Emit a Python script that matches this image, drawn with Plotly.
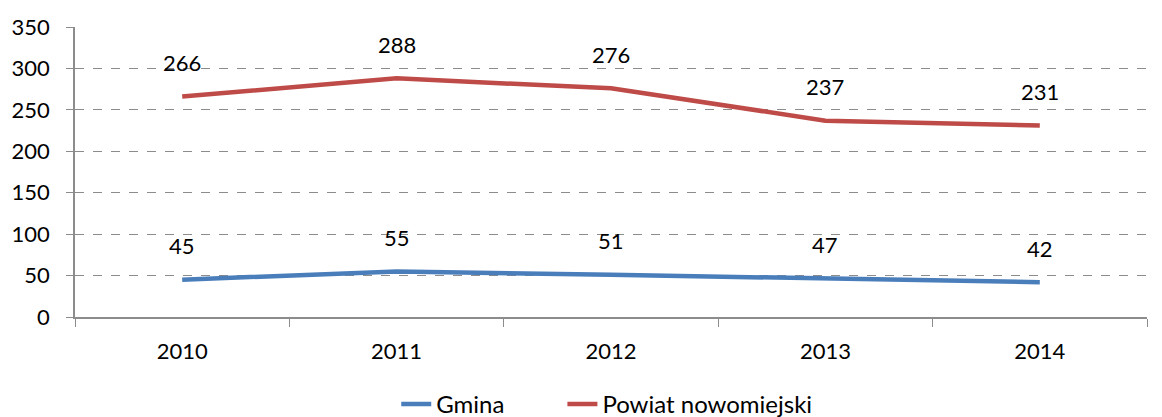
import plotly.graph_objects as go

years = ["2010", "2011", "2012", "2013", "2014"]
gmina = [45, 55, 51, 47, 42]
powiat = [266, 288, 276, 237, 231]

series = [
    ("Gmina", gmina, "#4A7EBB", "legend"),
    ("Powiat nowomiejski", powiat, "#BE4B48", "legend2"),
]

FONT = "Lato, Open Sans, sans-serif"
SIZE = 22

fig = go.Figure()
for name, vals, color, leg in series:
    fig.add_trace(go.Scatter(
        x=years, y=vals, name=name, mode="lines", legend=leg,
        line=dict(color=color, width=4.5),
    ))
    # category axis: position labels by category index
    for i, v in enumerate(vals):
        fig.add_annotation(
            x=i, y=v, text=str(v), showarrow=False, yshift=34,
            font=dict(family=FONT, size=SIZE, color="#000000"),
        )

legend_style = dict(
    orientation="h", xref="container", yref="container",
    xanchor="left", y=0.03, yanchor="middle",
    font=dict(family=FONT, size=24),
)

fig.update_layout(
    width=1162, height=417,
    margin=dict(l=75, r=15, t=27, b=100, autoexpand=False),
    paper_bgcolor="white", plot_bgcolor="white",
    font=dict(family=FONT, size=SIZE, color="#000000"),
    showlegend=True,
    legend=dict(x=0.341, **legend_style),
    legend2=dict(x=0.484, **legend_style),
)
fig.update_xaxes(
    type="category", range=[-0.5, 4.5], automargin=False,
    showline=True, linecolor="#8C8C8C", linewidth=1.5,
    ticks="outside", tickson="boundaries", ticklen=8, tickcolor="#8C8C8C",
    ticklabelstandoff=14, showgrid=False,
)
fig.update_yaxes(
    range=[0, 350], dtick=50, automargin=False,
    showline=True, linecolor="#8C8C8C", linewidth=1.5,
    ticks="outside", ticklen=7, tickcolor="#8C8C8C",
    showgrid=True, gridcolor="#8C8C8C", griddash="dash", gridwidth=1,
    zeroline=False, ticklabelstandoff=12,
)

# drop the browser's default body margin so the figure sits at the page corner
fig.write_html(
    "out.html",
    config={"displayModeBar": False},
    post_script="document.body.style.margin='0px';",
)
